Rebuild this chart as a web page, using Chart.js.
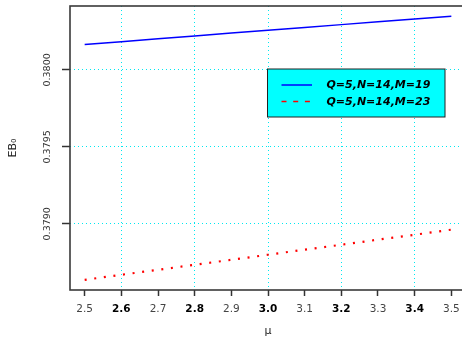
<!DOCTYPE html>
<html>
<head>
<meta charset="utf-8">
<script src="https://cdn.jsdelivr.net/npm/chart.js@4/dist/chart.umd.min.js"></script>
<style>
  html, body { margin: 0; padding: 0; background: #ffffff; overflow: hidden; width: 462px; height: 341px; }
  #wrap { width: 470px; height: 341px; }
</style>
</head>
<body>
<div id="wrap"><canvas id="c" width="470" height="341"></canvas></div>
<script>
// ---- data ----
const muValues = [2.5, 2.6, 2.7, 2.8, 2.9, 3.0, 3.1, 3.2, 3.3, 3.4, 3.5];
const ebM19 = [0.380165, 0.380183, 0.380202, 0.380220, 0.380239, 0.380257, 0.380275, 0.380294, 0.380312, 0.380331, 0.380349];
const ebM23 = [0.378636, 0.378669, 0.378701, 0.378734, 0.378766, 0.378799, 0.378832, 0.378864, 0.378897, 0.378929, 0.378962];
const seriesLabels = ['Q=5,N=14,M=19', 'Q=5,N=14,M=23'];
const xTickValues = [2.5, 2.6, 2.7, 2.8, 2.9, 3.0, 3.1, 3.2, 3.3, 3.4, 3.5];
const xTickLabels = ['2.5', '2.6', '2.7', '2.8', '2.9', '3.0', '3.1', '3.2', '3.3', '3.4', '3.5'];
const xBoldLabels = ['2.6', '2.8', '3.0', '3.2', '3.4'];
const yTickValues = [0.3790, 0.3795, 0.3800];
const yTickLabels = ['0.3790', '0.3795', '0.3800'];
const xTitle = 'μ';
const yTitle = 'EB₀';

const FAM = '"DejaVu Sans", sans-serif';
const CYAN = '#00e8f0';

function xLabelOf(v) {
  const i = xTickValues.findIndex(t => Math.abs(t - v) < 1e-9);
  return i >= 0 ? xTickLabels[i] : '';
}
function yLabelOf(v) {
  const i = yTickValues.findIndex(t => Math.abs(t - v) < 1e-9);
  return i >= 0 ? yTickLabels[i] : '';
}
function isBold(v) { return xBoldLabels.includes(xLabelOf(v)); }

const boxPlugin = {
  id: 'boxPlugin',
  afterDatasetsDraw(chart) {
    const {ctx, chartArea: a} = chart;
    ctx.save();
    ctx.strokeStyle = '#3a3a3a';
    ctx.lineWidth = 1.6;
    ctx.strokeRect(a.left, a.top, a.right - a.left, a.bottom - a.top);
    ctx.restore();
  }
};

const legendPlugin = {
  id: 'legendBox',
  afterDraw(chart) {
    const {ctx} = chart;
    const ds = chart.data.datasets;
    const bx = 267.5, by = 69, bw = 177.5, bh = 48;
    ctx.save();
    ctx.fillStyle = '#00ffff';
    ctx.fillRect(bx, by, bw, bh);
    ctx.strokeStyle = '#222';
    ctx.lineWidth = 1;
    ctx.strokeRect(bx, by, bw, bh);
    const rows = [85, 101.5];
    ds.forEach((d, i) => {
      ctx.beginPath();
      ctx.strokeStyle = d.borderColor;
      ctx.lineWidth = 1.5;
      ctx.setLineDash(i === 0 ? [] : [5, 6.7]);
      ctx.moveTo(281.5, rows[i]);
      ctx.lineTo(312, rows[i]);
      ctx.stroke();
      ctx.setLineDash([]);
      ctx.fillStyle = '#000';
      ctx.font = 'italic bold 11px ' + FAM;
      ctx.textBaseline = 'middle';
      ctx.textAlign = 'left';
      ctx.fillText(d.label, 326.5, rows[i] + 0.5);
    });
    ctx.restore();
  }
};

new Chart(document.getElementById('c'), {
  type: 'line',
  data: {
    datasets: [
      {
        label: seriesLabels[0],
        data: muValues.map((m, i) => ({x: m, y: ebM19[i]})),
        borderColor: '#0000ff',
        borderWidth: 1.5,
        pointRadius: 0,
        tension: 0,
        fill: false
      },
      {
        label: seriesLabels[1],
        data: muValues.map((m, i) => ({x: m, y: ebM23[i]})),
        borderColor: '#ff0000',
        borderWidth: 2.2,
        borderDash: [2, 7.67],
        pointRadius: 0,
        tension: 0,
        fill: false
      }
    ]
  },
  options: {
    responsive: false,
    animation: false,
    devicePixelRatio: 1,
    layout: { padding: { top: 6, right: 4, left: 0, bottom: 0 } },
    plugins: { legend: { display: false }, tooltip: { enabled: false } },
    scales: {
      x: {
        type: 'linear',
        min: 2.46,
        max: 3.54,
        afterBuildTicks: (s) => { s.ticks = xTickValues.map(v => ({value: v})); },
        afterFit: (s) => { s.height = 51; },
        border: { display: false, dash: [1, 3] },
        grid: {
          color: (ctx) => (ctx.tick && isBold(ctx.tick.value)) ? CYAN : 'rgba(0,0,0,0)',
          lineWidth: 1,
          drawTicks: true,
          tickLength: 6,
          tickColor: '#333',
          tickWidth: 1.5,
          tickBorderDash: []
        },
        ticks: {
          autoSkip: false,
          maxRotation: 0,
          minRotation: 0,
          padding: 7,
          callback: (v) => xLabelOf(v),
          color: (ctx) => isBold(ctx.tick.value) ? '#000' : '#444',
          font: (ctx) => ({ family: FAM, size: 10.5, weight: (ctx.tick && isBold(ctx.tick.value)) ? 'bold' : 'normal' })
        },
        title: {
          display: true,
          text: xTitle,
          color: '#222',
          font: { family: FAM, size: 11 },
          padding: { top: 0, bottom: 3 }
        }
      },
      y: {
        type: 'linear',
        min: 0.37857,
        max: 0.380415,
        afterBuildTicks: (s) => { s.ticks = yTickValues.map(v => ({value: v})); },
        afterFit: (s) => { s.width = 70; },
        border: { display: false, dash: [1, 3] },
        grid: {
          color: CYAN,
          lineWidth: 1,
          drawTicks: true,
          tickLength: 8,
          tickColor: '#333',
          tickWidth: 1.5,
          tickBorderDash: []
        },
        ticks: {
          autoSkip: false,
          minRotation: 90,
          maxRotation: 90,
          crossAlign: 'center',
          padding: -2,
          callback: (v) => yLabelOf(v),
          color: '#333',
          font: { family: FAM, size: 9.5 }
        },
        title: {
          display: true,
          text: yTitle,
          color: '#222',
          font: { family: FAM, size: 11 },
          padding: { top: 7, bottom: 0 }
        }
      }
    }
  },
  plugins: [boxPlugin, legendPlugin]
});
</script>
</body>
</html>
